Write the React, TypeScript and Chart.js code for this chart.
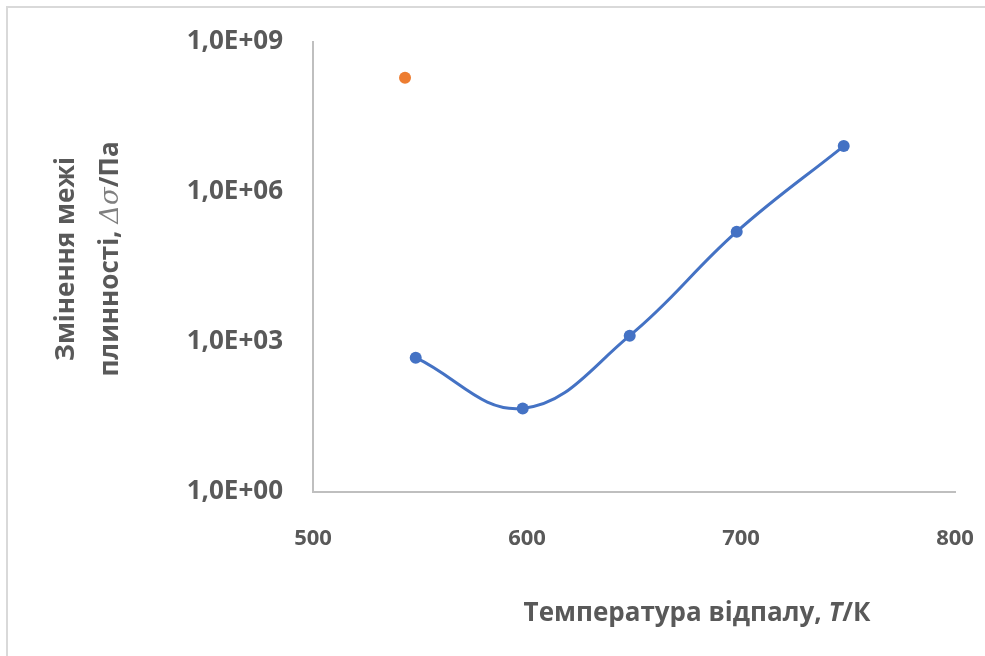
import React, { useEffect, useRef } from "react";
import { Chart, registerables } from "chart.js";

Chart.register(...registerables);

const blueTemps = [548, 598, 648, 698, 748];
const blueValues = [485, 47, 1337, 160700, 8.3e6];
const orangeTemps = [543];
const orangeValues = [1.93e8];
const yTickValues = [1, 1e3, 1e6, 1e9];
const xTitleParts = [
  { text: "Температура відпалу, ", style: "bold" },
  { text: "T", style: "bolditalic" },
  { text: "/К", style: "bold" },
];
const yTitleLine1 = [{ text: "Змінення межі", style: "bold" }];
const yTitleLine2 = [
  { text: "плинності, ", style: "bold" },
  { text: "Δσ", style: "math" },
  { text: "/Па", style: "bold" },
];

const GREY = "#595959";

function fontFor(style: string, size: number) {
  if (style === "bolditalic") return `italic bold ${size}px "Open Sans"`;
  if (style === "math") return `italic ${size}px "DejaVu Serif"`;
  return `bold ${size}px "Open Sans"`;
}

function drawRich(ctx: CanvasRenderingContext2D, parts: { text: string; style: string }[], cx: number, cy: number, size: number) {
  let total = 0;
  const widths = parts.map((p) => {
    ctx.font = fontFor(p.style, size);
    const w = ctx.measureText(p.text).width;
    total += w;
    return w;
  });
  let x = cx - total / 2;
  ctx.textBaseline = "middle";
  ctx.textAlign = "left";
  parts.forEach((p, i) => {
    ctx.font = fontFor(p.style, size);
    ctx.fillStyle = p.style === "math" ? "#7f7f7f" : GREY;
    ctx.fillText(p.text, x, cy);
    x += widths[i];
  });
}

const decorPlugin = {
  id: "decor",
  beforeDraw(chart: any) {
    const ctx = chart.ctx as CanvasRenderingContext2D;
    ctx.save();
    ctx.fillStyle = "#ffffff";
    ctx.fillRect(0, 0, chart.width, chart.height);
    ctx.strokeStyle = "#d9d9d9";
    ctx.lineWidth = 2;
    ctx.strokeRect(7, 7, chart.width + 20, chart.height + 20);
    ctx.restore();
  },
  afterDraw(chart: any) {
    const ctx = chart.ctx as CanvasRenderingContext2D;
    ctx.save();
    drawRich(ctx, xTitleParts, 697, 614, 26);
    ctx.save();
    ctx.translate(67, 259);
    ctx.rotate(-Math.PI / 2);
    drawRich(ctx, yTitleLine1, 0, 0, 26);
    ctx.restore();
    ctx.save();
    ctx.translate(111, 259);
    ctx.rotate(-Math.PI / 2);
    drawRich(ctx, yTitleLine2, 0, 0, 26);
    ctx.restore();
    ctx.restore();
  },
};

function fmtExp(v: number) {
  const e = Math.round(Math.log10(v));
  return "1,0E+" + String(e).padStart(2, "0");
}

export default function App() {
  const ref = useRef<HTMLCanvasElement>(null);
  useEffect(() => {
    document.body.style.margin = "0";
    const canvas = ref.current!;
    const chart = new Chart(canvas, {
      type: "scatter",
      data: {
        datasets: [
          {
            label: "blue",
            data: blueTemps.map((t, i) => ({ x: t, y: blueValues[i] })),
            showLine: true,
            borderColor: "#4472C4",
            backgroundColor: "#4472C4",
            borderWidth: 3,
            pointRadius: 6,
            pointBorderWidth: 0,
            tension: 0.4,
          },
          {
            label: "orange",
            data: orangeTemps.map((t, i) => ({ x: t, y: orangeValues[i] })),
            borderColor: "#ED7D31",
            backgroundColor: "#ED7D31",
            pointRadius: 6,
            pointBorderWidth: 0,
          },
        ],
      },
      options: {
        responsive: false,
        animation: false,
        layout: { padding: { left: 0, top: 42, right: 30, bottom: 0 } },
        plugins: { legend: { display: false }, tooltip: { enabled: false } },
        scales: {
          x: {
            type: "linear",
            min: 500,
            max: 800,
            grid: { display: false, drawTicks: false },
            border: { color: "#bfbfbf", width: 2 },
            ticks: {
              stepSize: 100,
              padding: 34,
              color: GREY,
              font: { family: "Open Sans", size: 22, weight: "bold" },
              maxRotation: 0,
            },
            afterFit(scale: any) {
              scale.height = 164;
              scale.paddingLeft = 0;
              scale.paddingRight = 0;
            },
          },
          y: {
            type: "logarithmic",
            min: 1,
            max: 1e9,
            grid: { display: false, drawTicks: false },
            border: { color: "#bfbfbf", width: 2 },
            afterBuildTicks(scale: any) {
              scale.ticks = yTickValues.map((v) => ({ value: v }));
            },
            ticks: {
              padding: 30,
              color: GREY,
              font: { family: "Open Sans", size: 26, weight: "bold" },
              callback: (v: any) => fmtExp(Number(v)),
            },
            afterFit(scale: any) {
              scale.width = 313;
              scale.paddingTop = 0;
              scale.paddingBottom = 0;
            },
          },
        },
      },
      plugins: [decorPlugin],
    });
    return () => chart.destroy();
  }, []);
  return <canvas ref={ref} width={985} height={656} style={{ display: "block", width: 985, height: 656 }} />;
}
